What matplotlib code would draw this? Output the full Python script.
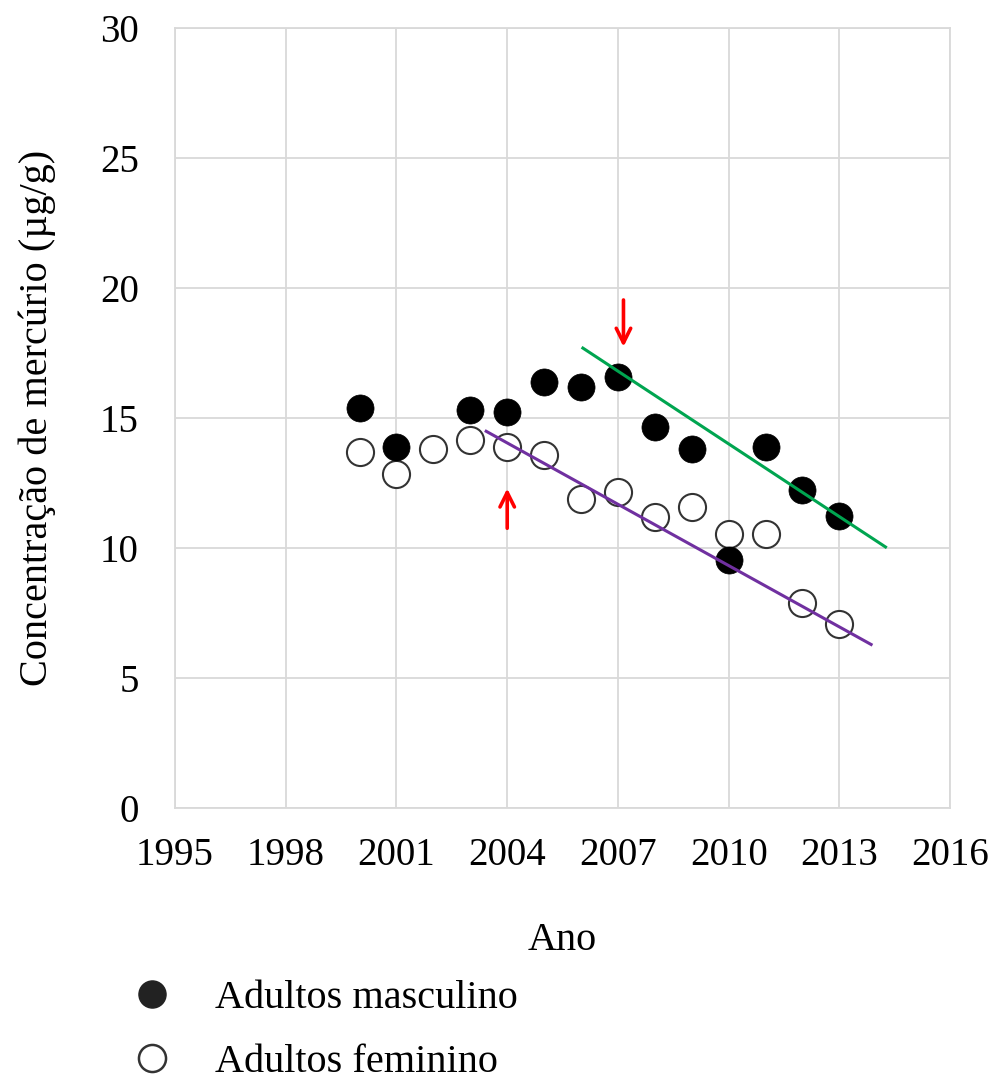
import matplotlib
matplotlib.use("Agg")
import matplotlib.pyplot as plt
from matplotlib.lines import Line2D

plt.rcParams['font.family'] = ['Liberation Serif', 'DejaVu Serif']

# Data
years_m = [2000, 2001, 2003, 2004, 2005, 2006, 2007, 2008, 2009, 2010, 2011, 2012, 2013]
hg_m = [15.4, 13.9, 15.3, 15.25, 16.4, 16.2, 16.6, 14.65, 13.8, 9.55, 13.9, 12.25, 11.25]
years_f = [2000, 2001, 2002, 2003, 2004, 2005, 2006, 2007, 2008, 2009, 2010, 2011, 2012, 2013]
hg_f = [13.7, 12.85, 13.8, 14.15, 13.9, 13.6, 11.9, 12.15, 11.2, 11.6, 10.55, 10.55, 7.9, 7.1]

trend_m_x = [2006.05, 2014.25]
trend_m_y = [17.7, 10.05]
trend_f_x = [2003.43, 2013.86]
trend_f_y = [14.5, 6.3]

arrow_down = (2007.15, 19.55, 17.75)  # x, tail y, tip y
arrow_up = (2004.0, 10.77, 12.3)

xticks = [1995, 1998, 2001, 2004, 2007, 2010, 2013, 2016]
yticks = [0, 5, 10, 15, 20, 25, 30]

fig = plt.figure(figsize=(9.98, 10.79), dpi=100)
ax = fig.add_axes([0.1754, 0.2509, 0.7766, 0.7229])

ax.set_xlim(1995, 2016)
ax.set_ylim(0, 30)
ax.set_xticks(xticks)
ax.set_yticks(yticks)
ax.tick_params(axis='both', length=0, labelsize=28)
ax.tick_params(axis='x', pad=21)
ax.tick_params(axis='y', pad=26)
ax.grid(True, color='#d9d9d9', linewidth=1.3)
ax.set_axisbelow(True)
for s in ax.spines.values():
    s.set_color('#d9d9d9')
    s.set_linewidth(1.3)

ax.plot(years_f, hg_f, 'o', markersize=19.5, markerfacecolor='white',
        markeredgecolor='#333333', markeredgewidth=1.5, zorder=3)
ax.plot(years_m, hg_m, 'o', markersize=19.5, markerfacecolor='black',
        markeredgecolor='black', markeredgewidth=0.5, zorder=4)

ax.plot(trend_m_x, trend_m_y, color='#00a550', linewidth=2.2, zorder=5)
ax.plot(trend_f_x, trend_f_y, color='#7030a0', linewidth=2.2, zorder=5)

for (x, y0, y1) in [arrow_down, arrow_up]:
    ax.annotate('', xy=(x, y1), xytext=(x, y0),
                arrowprops=dict(arrowstyle='->', color='red', lw=2.6,
                                mutation_scale=26, shrinkA=0, shrinkB=0),
                zorder=6)

ax.set_xlabel('Ano', fontsize=29, labelpad=34)
ax.set_ylabel('Concentração de mercúrio (µg/g)', fontsize=29, labelpad=32)

handles = [
    Line2D([], [], linestyle='none', marker='o', markersize=19.5,
           markerfacecolor='#222222', markeredgecolor='#222222'),
    Line2D([], [], linestyle='none', marker='o', markersize=19.5,
           markerfacecolor='white', markeredgecolor='#333333', markeredgewidth=1.8),
]
fig.legend(handles, ['Adultos masculino', 'Adultos feminino'],
           loc='upper left', bbox_to_anchor=(0.132, 0.0917),
           frameon=False, fontsize=29, handlelength=1.0, handletextpad=1.07,
           labelspacing=0.65, borderpad=0, borderaxespad=0)

fig.savefig('out.png', dpi=100)
